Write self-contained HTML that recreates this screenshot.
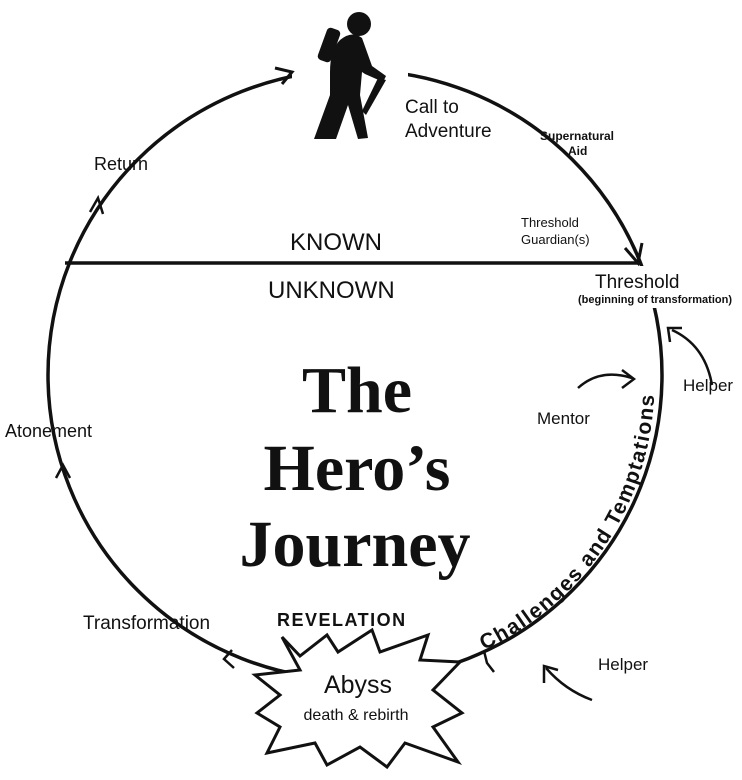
<!DOCTYPE html>
<html><head><meta charset="utf-8"><style>
html,body{margin:0;padding:0;background:#fff;}
svg{display:block;}
text{font-family:"Liberation Sans",sans-serif;fill:#111;}
</style></head><body>
<svg width="742" height="780" viewBox="0 0 742 780" xmlns="http://www.w3.org/2000/svg">
<defs>
<path id="arcT" d="M 484 650 A 297 295 0 0 0 654 368"/>
</defs>
<ellipse cx="355" cy="375" rx="307" ry="305" fill="none" stroke="#111" stroke-width="3.5"/>
<rect x="292" y="55" width="116" height="35" fill="#fff"/>
<rect x="600" y="266" width="140" height="42" fill="#fff"/>
<path d="M275 68 L292 72 L282 84" fill="none" stroke="#111" stroke-width="3"/>
<path d="M625 248 L638 263 L642 243" fill="none" stroke="#111" stroke-width="3"/>
<path d="M90 212 L98 198 L103 214" fill="none" stroke="#111" stroke-width="2.5"/>
<path d="M56 478 L63 465 L70 478" fill="none" stroke="#111" stroke-width="2.5"/>
<path d="M232 650 L224 659 L234 668" fill="none" stroke="#111" stroke-width="2.5"/>
<path d="M484 651 L487 663 L494 672" fill="none" stroke="#111" stroke-width="2.5"/>
<line x1="65" y1="263" x2="640" y2="263" stroke="#111" stroke-width="3.5"/>
<g fill="#111">
<circle cx="359" cy="24" r="12"/>
<rect x="322" y="28" width="14" height="34" rx="4" transform="rotate(20 329 45)"/>
<path d="M340 40 Q352 30 362 38 L372 66 L386 76 L383 82 L365 74 L362 72 L360 95 L368 138 L358 139 L348 105 L336 139 L314 139 L330 95 L330 72 Q330 50 340 40 Z"/>
<path d="M378 78 L386 80 L366 115 L362 111 Z"/>
</g>
<polygon points="282,637 300,656 327,635 338,652 372,630 380,652 428,635 420,660 460,662 433,690 462,713 433,727 458,762 405,743 387,767 360,747 327,765 315,743 267,753 280,727 257,713 280,695 255,675 300,670" fill="#fff" stroke="#111" stroke-width="3"/>
<path d="M712 385 Q705 345 672 330" fill="none" stroke="#111" stroke-width="2.5"/>
<path d="M670 342 L668 328 L682 328" fill="none" stroke="#111" stroke-width="2.5"/>
<path d="M578 388 Q600 368 632 378" fill="none" stroke="#111" stroke-width="2.5"/>
<path d="M622 370 L634 379 L622 388" fill="none" stroke="#111" stroke-width="2.5"/>
<path d="M592 700 Q565 690 546 668" fill="none" stroke="#111" stroke-width="2.5"/>
<path d="M544 683 L544 666 L558 670" fill="none" stroke="#111" stroke-width="2.5"/>
<text x="405" y="113" font-size="19">Call to</text>
<text x="405" y="137" font-size="19">Adventure</text>
<text x="540" y="140" font-size="12" font-weight="bold">Supernatural</text>
<text x="568" y="155" font-size="12" font-weight="bold">Aid</text>
<text x="521" y="227" font-size="13">Threshold</text>
<text x="521" y="244" font-size="13">Guardian(s)</text>
<text x="290" y="250" font-size="24">KNOWN</text>
<text x="268" y="298" font-size="24">UNKNOWN</text>
<text x="595" y="288" font-size="19">Threshold</text>
<text x="578" y="303" font-size="11" font-weight="bold">(beginning of transformation)</text>
<text x="94" y="170" font-size="18">Return</text>
<text x="5" y="437" font-size="18">Atonement</text>
<text x="83" y="629" font-size="19">Transformation</text>
<text x="277" y="626" font-size="18" font-weight="bold" letter-spacing="1.5">REVELATION</text>
<text x="358" y="693" font-size="25" text-anchor="middle">Abyss</text>
<text x="356" y="720" font-size="16" text-anchor="middle">death &amp; rebirth</text>
<text x="537" y="424" font-size="17">Mentor</text>
<text x="683" y="391" font-size="17">Helper</text>
<text x="598" y="670" font-size="17">Helper</text>
<text font-size="21" font-weight="bold"><textPath href="#arcT" textLength="322" lengthAdjust="spacing">Challenges and Temptations</textPath></text>
<g font-weight="bold" text-anchor="middle">
<text x="357" y="412" font-size="66" style="font-family:'Liberation Serif',serif">The</text>
<text x="357" y="490" font-size="66" style="font-family:'Liberation Serif',serif">Hero’s</text>
<text x="355" y="566" font-size="66" style="font-family:'Liberation Serif',serif">Journey</text>
</g>
</svg>
</body></html>
